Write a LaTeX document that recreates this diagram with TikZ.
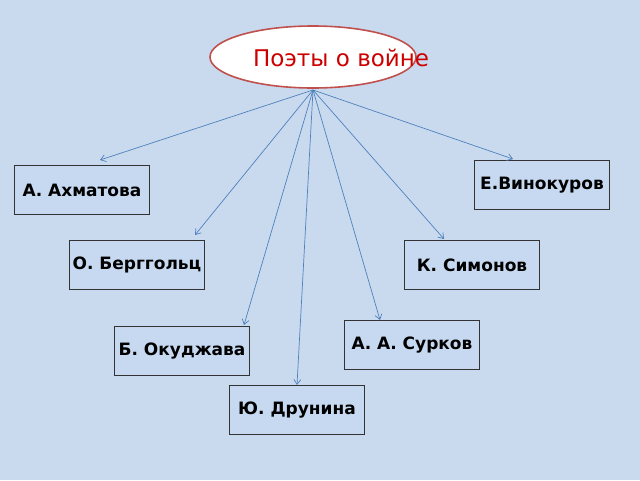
\documentclass[tikz,border=0pt]{standalone}
\usepackage{fontspec}
\setmainfont{DejaVu Sans}
\usetikzlibrary{shapes.geometric,arrows.meta}
\definecolor{bg}{HTML}{C9DAEE}
\definecolor{boxf}{HTML}{C6D9F1}
\definecolor{arr}{HTML}{4F81BD}
\definecolor{ell}{HTML}{C0504D}
\begin{document}
\begin{tikzpicture}[x=1pt,y=-1pt,
  box/.style={draw=black!80,line width=0.8pt,fill=boxf,minimum width=135pt,minimum height=49pt,inner sep=0pt,font=\bfseries\fontsize{17}{20}\selectfont},
  con/.style={draw=arr,-{Straight Barb[length=5pt,width=7pt]},line width=0.7pt}]
\fill[bg] (0,0) rectangle (640,480);
\useasboundingbox (0,0) rectangle (640,480);
\node[ellipse,draw=ell,line width=1.6pt,fill=white,minimum width=206pt,minimum height=62pt] (top) at (313,57) {};
\node[text=red!80!black,font=\fontsize{23}{27}\selectfont] (t) at (341,58) {Поэты о войне};
\coordinate (o) at (313,90);
\node[box] (a) at (82,190) {А. Ахматова};
\node[box] (v) at (542,185) {Е.Винокуров};
\node[box] (b) at (137,265) {О. Берггольц};
\node[box] (s) at (472,265) {К. Симонов};
\node[box] (su) at (412,345) {А. А. Сурков};
\node[box] (ok) at (182,351) {Б. Окуджава};
\node[box] (d) at (297,410) {Ю. Друнина};
\draw[con] (o) -- (100,160);
\draw[con] (o) -- (513,159);
\draw[con] (o) -- (195,235);
\draw[con] (o) -- (444,239);
\draw[con] (o) -- (244,325);
\draw[con] (o) -- (380,320);
\draw[con] (o) -- (297,385);
\end{tikzpicture}
\end{document}
